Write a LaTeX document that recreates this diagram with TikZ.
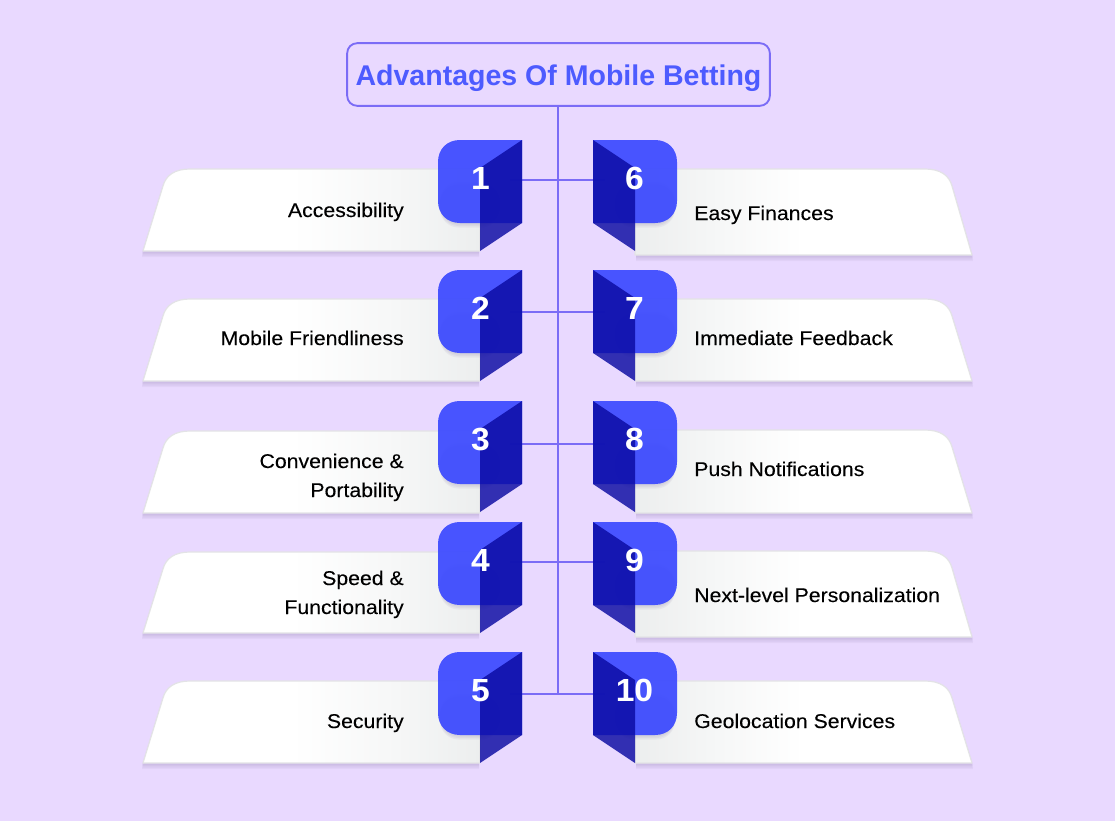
\documentclass[tikz,border=0pt]{standalone}
\usepackage{fontspec}
\setmainfont{Liberation Sans}
\newfontfamily\lblfont[FakeStretch=1.07,FakeBold=0.12]{Liberation Sans}
\newfontfamily\headfont{Liberation Sans Bold}
\newfontfamily\numfont[FakeStretch=1.05]{Liberation Sans Bold}
\usetikzlibrary{calc}
\definecolor{bgc}{HTML}{E9D9FF}
\definecolor{linec}{HTML}{7B6CF6}
\definecolor{titlec}{HTML}{4D5BFF}
\definecolor{boxc}{HTML}{3C4AFF}
\definecolor{foldc}{HTML}{0A0AA2}
\definecolor{panelend}{HTML}{ECEEEE}
\definecolor{panelrim}{HTML}{E3E3E6}
\definecolor{shadowc}{HTML}{7A6A9A}
\pgfdeclarehorizontalshading{panelL}{100bp}{color(0bp)=(white);color(47bp)=(white);color(62bp)=(panelend!45!white);color(75bp)=(panelend);color(100bp)=(panelend)}
\pgfdeclarehorizontalshading{panelR}{100bp}{color(0bp)=(panelend);color(25bp)=(panelend);color(38bp)=(panelend!45!white);color(50bp)=(white);color(100bp)=(white)}
\tikzset{
  x=0.75pt,y=-0.75pt,
  link/.style={draw=linec,line width=1.5pt},
  titlebox/.style={draw=linec,line width=1.4pt,rounded corners=7.5pt,text=titlec,font=\headfont\fontsize{21.4}{25}\selectfont,minimum width=317pt,minimum height=47pt,inner sep=0pt,text height=20pt,text depth=4.2pt},
  panelrimst/.style={draw=panelrim,line width=0.9pt,line join=round},
  shadowst/.style={fill=shadowc,fill opacity=0.07,draw=none},
  boxshadow/.style={fill=shadowc,fill opacity=0.08,draw=none,rounded corners=14pt},
  boxst/.style={fill=boxc,fill opacity=0.93,draw=none},
  foldst/.style={fill=foldc,fill opacity=0.82,draw=none},
  numst/.style={text=white,font=\numfont\fontsize{24}{28}\selectfont,inner sep=0pt,anchor=base},
  lblL/.style={text=black,font=\lblfont\fontsize{14.9}{18}\selectfont,inner sep=0pt,anchor=base east},
  lblR/.style={text=black,font=\lblfont\fontsize{14.9}{18}\selectfont,inner sep=0pt,anchor=base west},
}
\newcommand{\panelpathL}[3]{(143,#3) -- (163,{#2+17}) .. controls (166,{#2+6}) and (175,#2) .. (190,#2) -- (480,#2) -- (480,#3) -- cycle}
\newcommand{\panelpathR}[3]{(972,#3) -- (952,{#2+17}) .. controls (949,{#2+6}) and (940,#2) .. (925,#2) -- (635,#2) -- (635,#3) -- cycle}
\newcommand{\leftrow}[5]{% box top, panel top, panel bottom, name, number
  \foreach \s in {1.5,3,4.5,6}{\path[shadowst,shift={(-1,\s)}] \panelpathL{#1}{#2}{#3};}
  \path[panelrimst,shade,shading=panelL] \panelpathL{#1}{#2}{#3};
  \foreach \s in {1.5,3,4.5}{\path[boxshadow] (440,{#1+\s+40}) rectangle (500,{#1+83+\s});}
  \path[boxst] (480,#1) -- (460,#1) .. controls (447,#1) and (438,{#1+9}) .. (438,{#1+22}) -- (438,{#1+61}) .. controls (438,{#1+74}) and (447,{#1+83}) .. (460,{#1+83}) -- (480,{#1+83}) -- (522,{#1+83}) -- (522,#1) -- cycle;
  \path[foldst] (522,#1) -- (480,{#1+28}) -- (480,{#1+111}) -- (522,{#1+83}) -- cycle;
  \node[numst] (#4) at (480.5,{#1+49}) {#5};
}
\newcommand{\rightrow}[5]{%
  \foreach \s in {1.5,3,4.5,6}{\path[shadowst,shift={(1,\s)}] \panelpathR{#1}{#2}{#3};}
  \path[panelrimst,shade,shading=panelR] \panelpathR{#1}{#2}{#3};
  \foreach \s in {1.5,3,4.5}{\path[boxshadow] (615,{#1+\s+40}) rectangle (675,{#1+83+\s});}
  \path[boxst] (635,#1) -- (655,#1) .. controls (668,#1) and (677,{#1+9}) .. (677,{#1+22}) -- (677,{#1+61}) .. controls (677,{#1+74}) and (668,{#1+83}) .. (655,{#1+83}) -- (635,{#1+83}) -- (593,{#1+83}) -- (593,#1) -- cycle;
  \path[foldst] (593,#1) -- (635,{#1+28}) -- (635,{#1+111}) -- (593,{#1+83}) -- cycle;
  \node[numst] (#4) at (634.5,{#1+49}) {#5};
}
\begin{document}
\begin{tikzpicture}
\useasboundingbox[fill=bgc] (0,0) rectangle (1115,821);
\node[titlebox] (title) at (558.5,74.5) {Advantages Of Mobile Betting};
\coordinate (trunkend) at (558,694);
\draw[link] (title.south) -- (trunkend |- title.south) -- (trunkend);
\foreach \n/\yy in {1/180,2/312,3/444,4/562,5/694}{
  \coordinate (jl\n) at (510,\yy);
  \coordinate (jr\n) at (605,\yy);
  \draw[link] (jl\n) -- (jr\n);
}
\leftrow{140}{169}{251}{n1}{1}
\leftrow{270}{299}{381}{n2}{2}
\leftrow{401}{431}{513}{n3}{3}
\leftrow{522}{552}{633}{n4}{4}
\leftrow{652}{681}{763}{n5}{5}
\rightrow{140}{169}{255}{n6}{6}
\rightrow{270}{299}{381}{n7}{7}
\rightrow{401}{430}{513}{n8}{8}
\rightrow{522}{551}{637}{n9}{9}
\rightrow{652}{681}{763}{n10}{10}
\node[lblL] (t1) at (404,217) {Accessibility};
\node[lblL] (t2) at (404,345) {Mobile Friendliness};
\node[lblL] (t3a) at (404,468) {Convenience \&};
\node[lblL] (t3b) at (404,497) {Portability};
\node[lblL] (t4a) at (404,585) {Speed \&};
\node[lblL] (t4b) at (404,614) {Functionality};
\node[lblL] (t5) at (404,728) {Security};
\node[lblR] (t6) at (694,220) {Easy Finances};
\node[lblR] (t7) at (694,345) {Immediate Feedback};
\node[lblR] (t8) at (694,476) {Push Notifications};
\node[lblR] (t9) at (694,602) {Next-level Personalization};
\node[lblR] (t10) at (694,728) {Geolocation Services};
\end{tikzpicture}
\end{document}
